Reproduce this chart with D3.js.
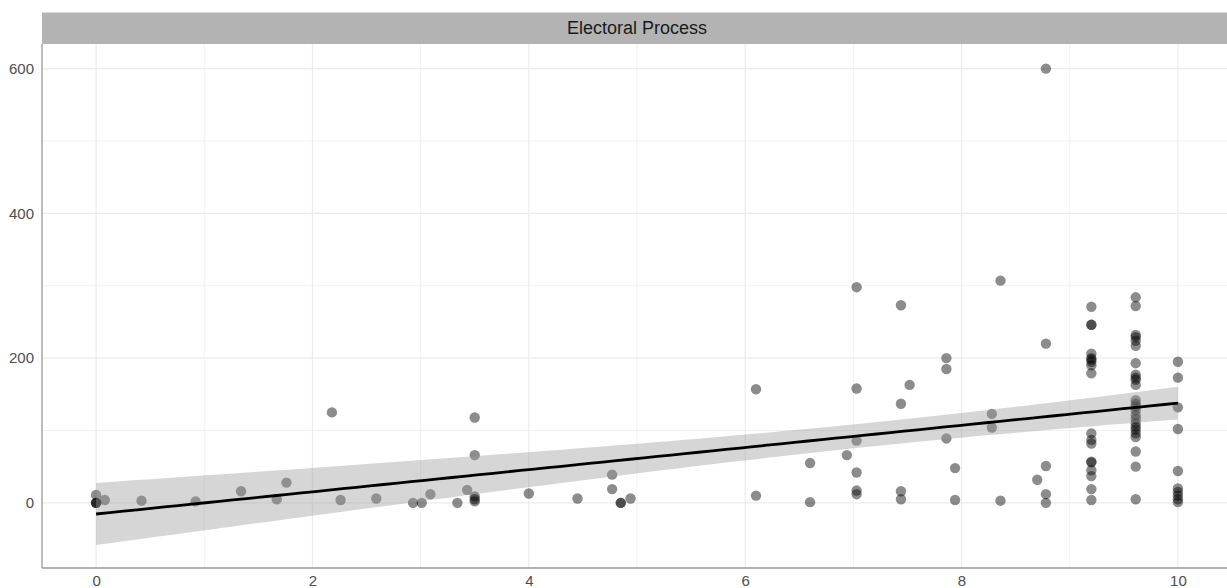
<!DOCTYPE html>
<html>
<head>
<meta charset="utf-8">
<script src="https://cdn.jsdelivr.net/npm/d3@7"></script>
<style>
  html, body { margin: 0; padding: 0; background: #fff; }
  svg { display: block; }
  text { font-family: "Liberation Sans", Arial, Helvetica, sans-serif; }
</style>
</head>
<body>
<svg id="chart" width="1227" height="588"></svg>
<script>
// ---- data ----
const panelTitle = "Electoral Process";
const xTicks = [0, 2, 4, 6, 8, 10];
const xMinorTicks = [1, 3, 5, 7, 9];
const yTicks = [0, 200, 400, 600];
const yMinorTicks = [-100, 100, 300, 500];

const xValues = [
  0, 0, 0, 0, 0.08, 0.42, 0.92, 1.34, 1.67, 1.76, 2.18, 2.26, 2.59,
  2.93, 3.01, 3.09, 3.34, 3.43, 3.5, 3.5, 3.5, 3.5, 3.5,
  4.0, 4.45, 4.77, 4.77, 4.85, 4.85, 4.94,
  6.1, 6.1, 6.6, 6.6, 6.94,
  7.03, 7.03, 7.03, 7.03, 7.03, 7.03,
  7.44, 7.44, 7.44, 7.44, 7.52,
  7.86, 7.86, 7.86, 7.94, 7.94,
  8.28, 8.28, 8.36, 8.36, 8.7,
  8.78, 8.78, 8.78, 8.78, 8.78,
  9.2, 9.2, 9.2, 9.2, 9.2, 9.2, 9.2, 9.2, 9.2, 9.2, 9.2, 9.2, 9.2, 9.2, 9.2, 9.2, 9.2, 9.2,
  9.61, 9.61, 9.61, 9.61, 9.61, 9.61, 9.61, 9.61, 9.61, 9.61, 9.61, 9.61, 9.61,
  9.61, 9.61, 9.61, 9.61, 9.61, 9.61, 9.61, 9.61, 9.61, 9.61, 9.61, 9.61,
  10, 10, 10, 10, 10, 10, 10, 10, 10, 10
];
const yValues = [
  11, 0, 0, 0, 4, 3, 2, 16, 5, 28, 125, 4, 6,
  0, 0, 12, 0, 18, 118, 66, 9, 5, 2,
  13, 6, 39, 19, 0, 0, 6,
  157, 10, 55, 1, 66,
  298, 158, 86, 42, 17, 12,
  273, 137, 16, 5, 163,
  200, 185, 89, 48, 4,
  123, 104, 307, 3, 32,
  600, 220, 51, 12, 0,
  271, 246, 246, 206, 200, 198, 195, 190, 179, 96, 87, 82, 57, 56, 45, 37, 19, 4,
  284, 272, 232, 229, 224, 217, 193, 177, 173, 170, 163, 142, 137,
  133, 128, 121, 116, 110, 105, 101, 96, 91, 71, 50, 5,
  195, 173, 132, 102, 44, 20, 15, 10, 5, 1
];

// ---- layout ----
const svg = d3.select("#chart");
const panel = { left: 42, right: 1232, top: 44, bottom: 568 };
const stripTop = 12.5;

const x = d3.scaleLinear().domain([-0.5, 10.5]).range([panel.left, panel.right]);
const y = d3.scaleLinear().domain([-90, 634]).range([panel.bottom, panel.top]);

// ---- linear fit with 95% confidence band (as geom_smooth(method = "lm")) ----
const n = xValues.length;
const xbar = d3.mean(xValues), ybar = d3.mean(yValues);
let sxx = 0, sxy = 0;
for (let i = 0; i < n; i++) { sxx += (xValues[i] - xbar) ** 2; sxy += (xValues[i] - xbar) * (yValues[i] - ybar); }
const slope = sxy / sxx, intercept = ybar - slope * xbar;
let sse = 0;
for (let i = 0; i < n; i++) sse += (yValues[i] - (intercept + slope * xValues[i])) ** 2;
const sigma = Math.sqrt(sse / (n - 2));
const tq = 1.96 + 2.4 / (n - 2);
const [xmin, xmax] = d3.extent(xValues);
const fitData = d3.range(80).map(k => {
  const xv = xmin + (xmax - xmin) * k / 79;
  const fit = intercept + slope * xv;
  const se = sigma * Math.sqrt(1 / n + (xv - xbar) ** 2 / sxx);
  return { x: xv, fit, lo: fit - tq * se, hi: fit + tq * se };
});

// ---- clip ----
svg.append("defs").append("clipPath").attr("id", "pclip")
  .append("rect").attr("x", panel.left).attr("y", panel.top)
  .attr("width", panel.right - panel.left).attr("height", panel.bottom - panel.top);

const g = svg.append("g").attr("clip-path", "url(#pclip)");

// grid
g.selectAll(".ymin").data(yMinorTicks).join("line")
  .attr("x1", panel.left).attr("x2", panel.right)
  .attr("y1", d => y(d)).attr("y2", d => y(d))
  .attr("stroke", "#efefef").attr("stroke-width", 0.9);
g.selectAll(".xmin").data(xMinorTicks).join("line")
  .attr("y1", panel.top).attr("y2", panel.bottom)
  .attr("x1", d => x(d)).attr("x2", d => x(d))
  .attr("stroke", "#efefef").attr("stroke-width", 0.9);
g.selectAll(".ymaj").data(yTicks).join("line")
  .attr("x1", panel.left).attr("x2", panel.right)
  .attr("y1", d => y(d)).attr("y2", d => y(d))
  .attr("stroke", "#ebebeb").attr("stroke-width", 1.2);
g.selectAll(".xmaj").data(xTicks).join("line")
  .attr("y1", panel.top).attr("y2", panel.bottom)
  .attr("x1", d => x(d)).attr("x2", d => x(d))
  .attr("stroke", "#ebebeb").attr("stroke-width", 1.2);

// points
g.selectAll("circle").data(d3.range(n)).join("circle")
  .attr("cx", i => x(xValues[i])).attr("cy", i => y(yValues[i]))
  .attr("r", 5.2).attr("fill", "#000").attr("fill-opacity", 0.45);

// ribbon
g.append("path").datum(fitData)
  .attr("d", d3.area().x(d => x(d.x)).y0(d => y(d.lo)).y1(d => y(d.hi)))
  .attr("fill", "#999").attr("fill-opacity", 0.4);

// fit line
g.append("path").datum(fitData)
  .attr("d", d3.line().x(d => x(d.x)).y(d => y(d.fit)))
  .attr("fill", "none").attr("stroke", "#000").attr("stroke-width", 2.8);

// axis lines
svg.append("line").attr("x1", panel.left).attr("x2", panel.left)
  .attr("y1", panel.top).attr("y2", panel.bottom)
  .attr("stroke", "#999").attr("stroke-width", 1.3);
svg.append("line").attr("x1", panel.left).attr("x2", panel.right)
  .attr("y1", panel.bottom).attr("y2", panel.bottom)
  .attr("stroke", "#999").attr("stroke-width", 1.3);

// tick labels via d3 axes (no tick marks, no domain)
const yAxis = svg.append("g").attr("transform", `translate(${panel.left},0)`)
  .call(d3.axisLeft(y).tickValues(yTicks).tickSize(0).tickPadding(8).tickFormat(d3.format("d")));
const xAxis = svg.append("g").attr("transform", `translate(0,${panel.bottom})`)
  .call(d3.axisBottom(x).tickValues(xTicks).tickSize(0).tickPadding(7).tickFormat(d3.format("d")));
[yAxis, xAxis].forEach(a => {
  a.select(".domain").remove();
  a.selectAll("text").attr("fill", "#4d4d4d").style("font-size", "15px")
    .style("font-family", "'Liberation Sans', Arial, sans-serif");
});

// strip
svg.append("rect").attr("x", panel.left).attr("y", stripTop)
  .attr("width", panel.right - panel.left).attr("height", panel.top - stripTop)
  .attr("fill", "#b3b3b3");
svg.append("text").attr("x", (panel.left + panel.right) / 2).attr("y", (stripTop + panel.top) / 2)
  .attr("text-anchor", "middle").attr("dominant-baseline", "central")
  .attr("fill", "#1a1a1a").style("font-size", "18px").text(panelTitle);
</script>
</body>
</html>
